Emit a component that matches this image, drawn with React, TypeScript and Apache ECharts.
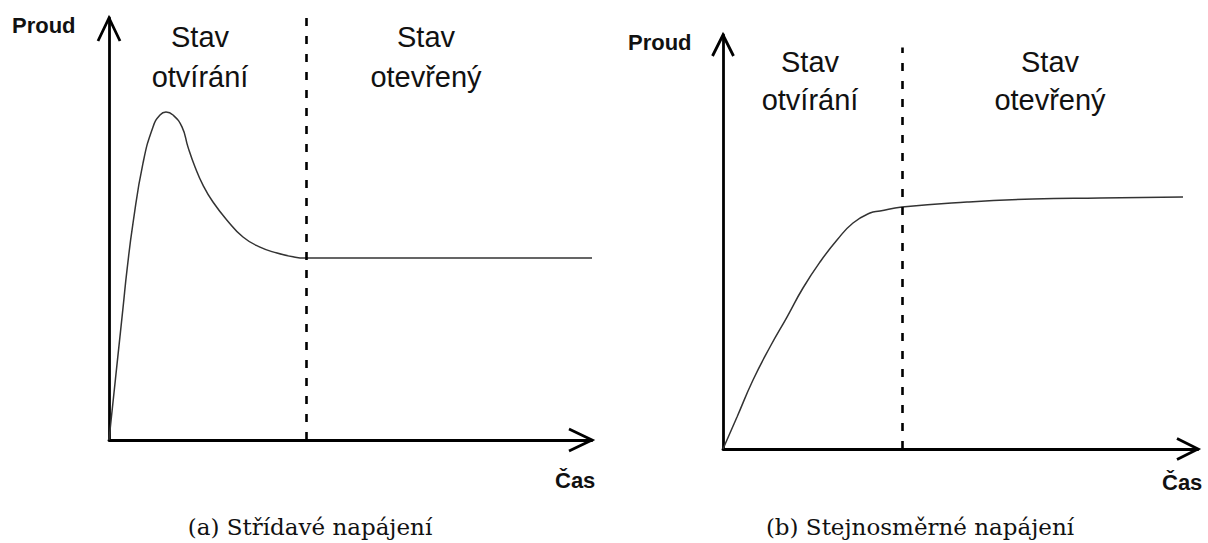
import React, { useEffect, useRef } from "react";
import * as echarts from "echarts";

// (a) AC supply: current over time (arbitrary units, 0–100 on both axes)
const acTime = [0, 0.83, 1.86, 2.9, 3.73, 4.97, 7.04, 9.11, 10.56, 11.8, 13.25, 15.11, 16.36, 17.81, 19.46, 21.53, 24.43, 27.74, 31.26, 34.78, 38.1, 40.58, 60, 100];
const acCurrent = [0, 9.0, 20.1, 31.3, 40.3, 51.4, 65.6, 74.2, 77.0, 77.7, 77.0, 74.2, 69.4, 64.7, 60.4, 56.4, 52.1, 48.1, 45.7, 44.3, 43.4, 43.1, 43.1, 43.1];
const acSwitch = 40.8;

// (b) DC supply: current over time
const dcTime = [0, 2.95, 6.32, 9.89, 13.47, 16.84, 20.42, 24.0, 27.37, 30.95, 33.05, 37.68, 51.37, 65.26, 79.37, 96.84];
const dcCurrent = [0, 7.73, 16.67, 24.64, 31.88, 38.89, 45.17, 50.48, 54.59, 57.0, 57.49, 58.45, 59.66, 60.39, 60.63, 60.87];
const dcSwitch = 37.7;
const dcSwitchTop = 97;

const yName = "Proud";
const xName = "Čas";
const phaseOpening = "Stav\notvírání";
const phaseOpen = "Stav\notevřený";
const captions = ["(a) Střídavé napájení", "(b) Stejnosměrné napájení"];

const SANS = '"Liberation Sans", Arial, sans-serif';
const SERIF = '"DejaVu Serif", serif';

const axisLine = { show: true, lineStyle: { color: "#000", width: 2.8 } };

function makeAxes(gridIndex: number) {
  return {
    x: {
      type: "value", gridIndex, min: 0, max: 100,
      axisLine, axisTick: { show: false }, axisLabel: { show: false }, splitLine: { show: false },
    },
    y: {
      type: "value", gridIndex, min: 0, max: 100,
      axisLine, axisTick: { show: false }, axisLabel: { show: false }, splitLine: { show: false },
    },
  };
}

export default function App() {
  const ref = useRef<HTMLDivElement>(null);

  useEffect(() => {
    if (!ref.current) return;
    const chart = echarts.init(ref.current, undefined, { renderer: "svg" });
    const a0 = makeAxes(0);
    const a1 = makeAxes(1);
    const curveStyle = { color: "#333", width: 1.5 };
    const dashStyle = { color: "#000", width: 2.6, type: [8, 10] as any };

    chart.setOption({
      animation: false,
      grid: [
        { left: 109, top: 18, width: 483, height: 422 },
        { left: 723, top: 35, width: 475, height: 414 },
      ],
      xAxis: [a0.x, a1.x],
      yAxis: [a0.y, a1.y],
      series: [
        {
          type: "line", xAxisIndex: 0, yAxisIndex: 0,
          data: acTime.map((t, i) => [t, acCurrent[i]]),
          smooth: 0.5, showSymbol: false, lineStyle: curveStyle,
          markLine: {
            silent: true, symbol: "none", label: { show: false }, lineStyle: dashStyle,
            data: [{ xAxis: acSwitch }],
          },
        },
        {
          type: "line", xAxisIndex: 1, yAxisIndex: 1,
          data: dcTime.map((t, i) => [t, dcCurrent[i]]),
          smooth: 0.5, showSymbol: false, lineStyle: curveStyle,
          markLine: {
            silent: true, symbol: "none", label: { show: false }, lineStyle: dashStyle,
            data: [[{ coord: [dcSwitch, 0] }, { coord: [dcSwitch, dcSwitchTop] }]],
          },
        },
      ],
    });

    // Open chevron arrowheads at the ends of both axes of each panel
    const arrows: any[] = [];
    const heads = [
      { grid: 0, arm: 23, half: 11 },
      { grid: 1, arm: 21, half: 10.5 },
    ];
    heads.forEach(({ grid, arm, half }) => {
      const [yx, yy] = chart.convertToPixel({ gridIndex: grid }, [0, 100]) as number[];
      const [xx, xy] = chart.convertToPixel({ gridIndex: grid }, [100, 0]) as number[];
      const st = { stroke: "#000", lineWidth: 2.8, fill: null };
      arrows.push({
        type: "polyline", silent: true,
        shape: { points: [[yx - half, yy + arm], [yx, yy], [yx + half, yy + arm]] },
        style: st,
      });
      arrows.push({
        type: "polyline", silent: true,
        shape: { points: [[xx - arm, xy - half], [xx, xy], [xx - arm, xy + half]] },
        style: st,
      });
    });

    const txt = (text: string, x: number, y: number, font: string, align = "center", lineHeight?: number) => ({
      type: "text", silent: true, x, y,
      style: { text, font, fill: "#111", textAlign: align, textVerticalAlign: "middle", lineHeight },
    });

    chart.setOption({
      graphic: [
        ...arrows,
        txt(yName, 12, 25, `bold 22px ${SANS}`, "left"),
        txt(xName, 555, 480, `bold 22px ${SANS}`, "left"),
        txt(yName, 628, 42, `bold 22px ${SANS}`, "left"),
        txt(xName, 1162, 482, `bold 22px ${SANS}`, "left"),
        txt(phaseOpening, 200, 57, `29px ${SANS}`, "center", 40),
        txt(phaseOpen, 426, 57, `29px ${SANS}`, "center", 40),
        txt(phaseOpening, 810, 81, `29px ${SANS}`, "center", 38),
        txt(phaseOpen, 1050, 81, `29px ${SANS}`, "center", 38),
        txt(captions[0], 310, 527, `23px ${SERIF}`),
        txt(captions[1], 920, 527, `23px ${SERIF}`),
      ],
    });

    return () => chart.dispose();
  }, []);

  return (
    <div
      ref={ref}
      style={{ position: "absolute", left: 0, top: 0, width: 1208, height: 543, background: "#fff" }}
    />
  );
}
